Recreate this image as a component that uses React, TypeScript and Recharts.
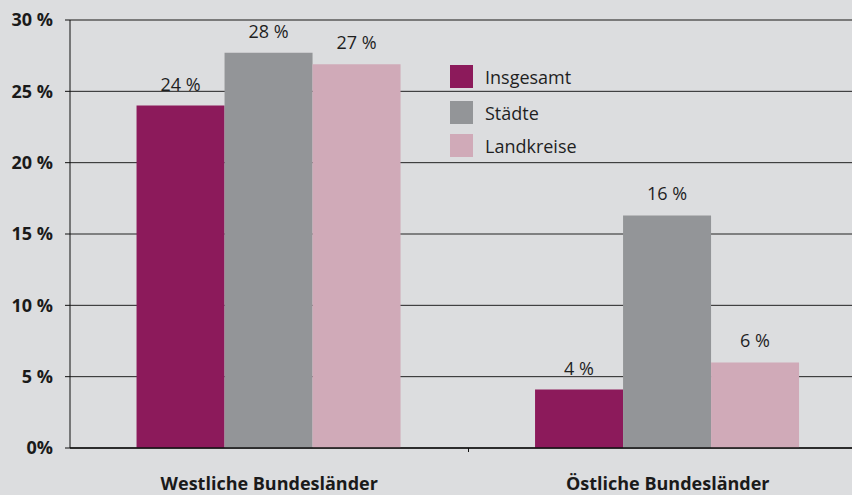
import React from "react";
import {
  BarChart,
  Bar,
  XAxis,
  YAxis,
  CartesianGrid,
  LabelList,
  ReferenceLine
} from "recharts";

const categories = ["Westliche Bundesländer", "Östliche Bundesländer"];
const insgesamt = [24.0, 4.1];
const staedte = [27.7, 16.3];
const landkreise = [26.9, 6.0];
const yTicks = [0, 5, 10, 15, 20, 25, 30];

const series = [
  { key: "insgesamt", name: "Insgesamt", color: "#8c1a5b" },
  { key: "staedte", name: "Städte", color: "#939598" },
  { key: "landkreise", name: "Landkreise", color: "#d0aab8" }
];

const data = categories.map((name, i) => ({
  name,
  insgesamt: insgesamt[i],
  staedte: staedte[i],
  landkreise: landkreise[i]
}));

const CHART_W = 880;
const Y_W = 70;
const RIGHT = 13;
const BAND = (CHART_W - Y_W - RIGHT) / categories.length;

const CategoryTick = (props: any) => {
  const { x, y, payload, index } = props;
  return (
    <g>
      {index === 0 && (
        <line x1={x + BAND / 2} x2={x + BAND / 2} y1={y} y2={y + 4} stroke="#111" strokeWidth={1} />
      )}
      <text x={x} y={y} dy={42} textAnchor="middle" fontSize={18} fontWeight={700} fill="#1a1a1a">
        {payload.value}
      </text>
    </g>
  );
};

// legend drawn as an overlay so it takes no room from the plot
const LegendBox = () => (
  <div style={{ position: "absolute", top: 65, left: 450, display: "flex", flexDirection: "column" }}>
    {series.map((s, i) => (
      <div
        key={s.key}
        style={{ display: "flex", alignItems: "center", height: 23, marginBottom: i === 0 ? 13 : 10 }}
      >
        <div style={{ width: 23, height: 23, background: s.color, marginRight: 12 }} />
        <span style={{ fontSize: 18, color: "#1f1f1f" }}>{s.name}</span>
      </div>
    ))}
  </div>
);

export default function App() {
  return (
    <div
      style={{
        position: "absolute",
        top: 0,
        left: 0,
        width: 852,
        height: 495,
        overflow: "hidden",
        background: "#dcdddf",
        fontFamily: "'Open Sans', sans-serif"
      }}
    >
      <BarChart
        width={CHART_W}
        height={495}
        data={data}
        margin={{ top: 20, right: RIGHT, bottom: 0, left: 0 }}
        barCategoryGap="16.7%"
        barGap={0}
      >
        <CartesianGrid vertical={false} stroke="#222" strokeWidth={1} />
        <XAxis
          dataKey="name"
          height={47}
          tickLine={false}
          tickSize={0}
          tickMargin={0}
          axisLine={{ stroke: "#111", strokeWidth: 1.5 }}
          tick={<CategoryTick />}
          interval={0}
        />
        <YAxis
          width={Y_W}
          domain={[0, 30]}
          ticks={yTicks}
          interval={0}
          tickSize={5}
          tickMargin={12}
          axisLine={{ stroke: "#111" }}
          tickLine={{ stroke: "#111" }}
          tick={{ fontSize: 18, fontWeight: 700, fill: "#1a1a1a" }}
          tickFormatter={(v: number) => (v === 0 ? "0%" : `${v} %`)}
        />
        <ReferenceLine y={30} stroke="#7a7a7a" strokeWidth={2} />
        {series.map((s) => (
          <Bar key={s.key} dataKey={s.key} name={s.name} fill={s.color} isAnimationActive={false}>
            <LabelList
              dataKey={s.key}
              position="top"
              offset={15}
              fontSize={18}
              fill="#1f1f1f"
              formatter={(v: any) => `${Math.round(Number(v))} %`}
            />
          </Bar>
        ))}
      </BarChart>
      <LegendBox />
    </div>
  );
}
